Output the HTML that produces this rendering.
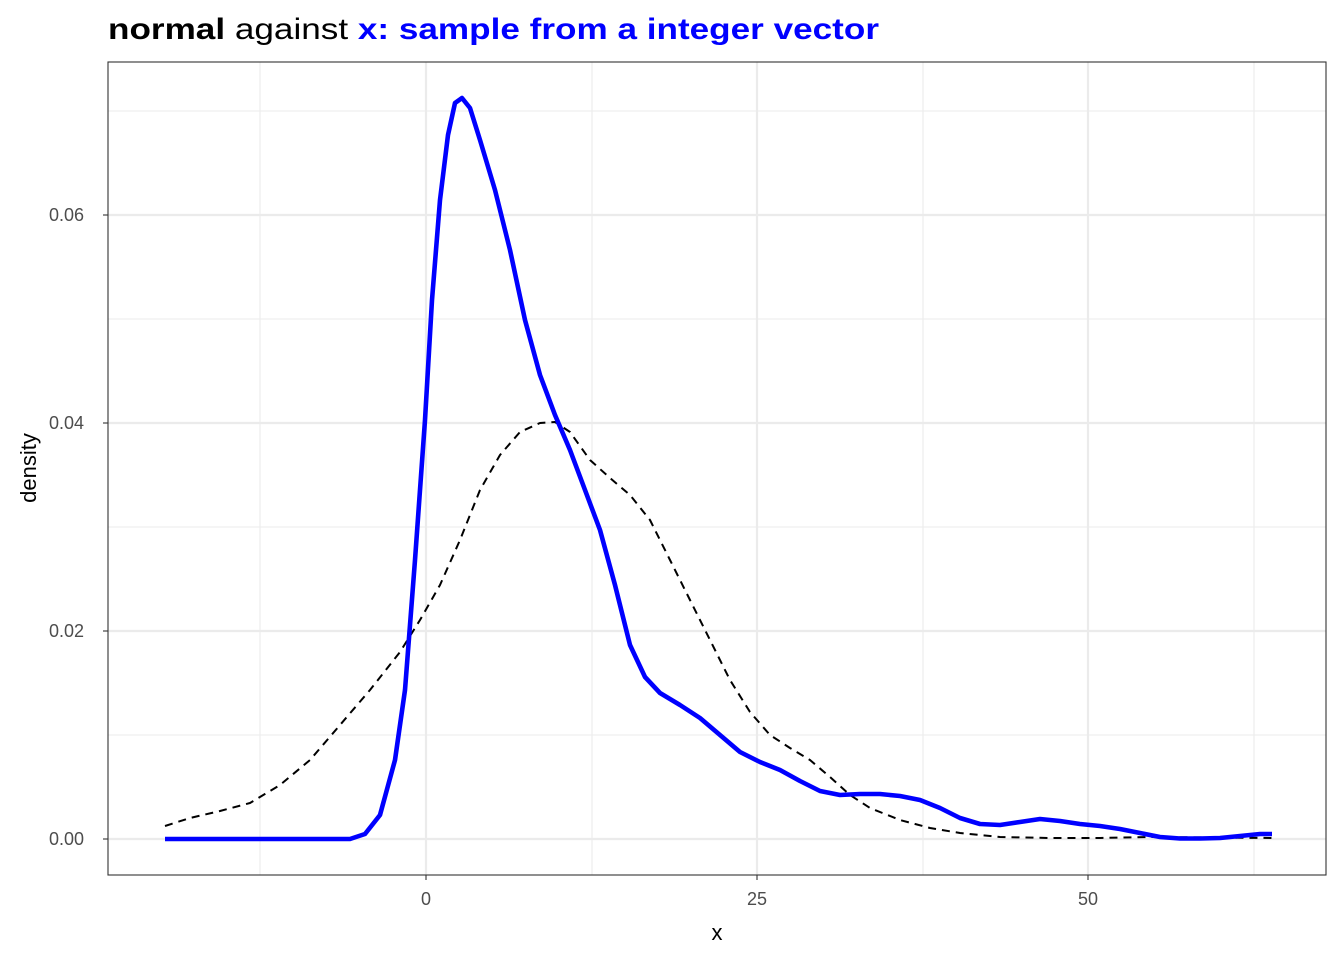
<!DOCTYPE html>
<html><head><meta charset="utf-8"><style>
body{margin:0;background:#fff;}
svg text{font-family:"Liberation Sans",Arial,sans-serif;}
</style></head><body>
<svg width="1344" height="960" xmlns="http://www.w3.org/2000/svg">
<rect width="1344" height="960" fill="#fff"/>
<g stroke="#ebebeb" stroke-width="1.1">
<line x1="108" x2="1326" y1="735" y2="735"/><line x1="108" x2="1326" y1="527" y2="527"/>
<line x1="108" x2="1326" y1="319" y2="319"/><line x1="108" x2="1326" y1="111" y2="111"/>
<line x1="260" x2="260" y1="62" y2="875"/><line x1="592" x2="592" y1="62" y2="875"/>
<line x1="923" x2="923" y1="62" y2="875"/><line x1="1254" x2="1254" y1="62" y2="875"/>
</g>
<g stroke="#ebebeb" stroke-width="2.2">
<line x1="108" x2="1326" y1="839" y2="839"/><line x1="108" x2="1326" y1="631" y2="631"/>
<line x1="108" x2="1326" y1="423" y2="423"/><line x1="108" x2="1326" y1="215" y2="215"/>
<line x1="426" x2="426" y1="62" y2="875"/><line x1="757" x2="757" y1="62" y2="875"/>
<line x1="1088" x2="1088" y1="62" y2="875"/>
</g>
<polyline fill="none" stroke="#000" stroke-width="2" stroke-dasharray="8,6" stroke-linejoin="round" points="165,826 190,818 220,811 250,803 280,785 310,760 340,725 370,690 400,652 420,620 440,585 460,540 480,490 500,455 520,432 540,423 555,422 570,432 590,460 610,478 630,495 650,520 670,560 690,600 710,640 730,680 750,712 770,735 790,748 810,760 830,777 850,795 870,808 900,820 930,828 960,833 1000,837 1050,838 1100,838 1150,837 1272,838"/>
<polyline fill="none" stroke="#0000ff" stroke-width="4.6" stroke-linejoin="round" points="165,839 350,839 365,834 380,815 395,760 405,690 415,560 425,420 432,300 440,200 448,135 455,103 462,98 470,108 480,140 495,190 510,250 525,320 540,375 555,415 570,450 585,490 600,530 615,585 630,645 645,677 660,693 680,705 700,718 720,735 740,752 760,762 780,770 800,781 820,791 840,795 860,794 880,794 900,796 920,800 940,808 960,818 980,824 1000,825 1020,822 1040,819 1060,821 1080,824 1100,826 1120,829 1140,833 1160,837 1180,838.5 1200,838.5 1220,838 1240,836 1260,834 1272,834"/>
<rect x="108" y="62" width="1218" height="813" fill="none" stroke="#333" stroke-width="1.1"/>
<g stroke="#333" stroke-width="1.1">
<line x1="103" x2="108" y1="839" y2="839"/><line x1="103" x2="108" y1="631" y2="631"/>
<line x1="103" x2="108" y1="423" y2="423"/><line x1="103" x2="108" y1="215" y2="215"/>
<line x1="426" x2="426" y1="875" y2="880"/><line x1="757" x2="757" y1="875" y2="880"/><line x1="1088" x2="1088" y1="875" y2="880"/>
</g>
<g font-size="18" fill="#4d4d4d" text-anchor="end">
<text x="84" y="845">0.00</text><text x="84" y="637">0.02</text><text x="84" y="429">0.04</text><text x="84" y="221">0.06</text>
</g>
<g font-size="18" fill="#4d4d4d" text-anchor="middle">
<text x="426" y="905">0</text><text x="757" y="905">25</text><text x="1088" y="905">50</text>
</g>
<text x="717" y="940" font-size="22" text-anchor="middle">x</text>
<text transform="translate(36,468) rotate(-90)" font-size="22" text-anchor="middle">density</text>
<text x="108" y="39" font-size="30" textLength="771" lengthAdjust="spacingAndGlyphs"><tspan font-weight="bold">normal</tspan> against <tspan font-weight="bold" fill="#0000ff">x: sample from a integer vector</tspan></text>
</svg>
</body></html>
